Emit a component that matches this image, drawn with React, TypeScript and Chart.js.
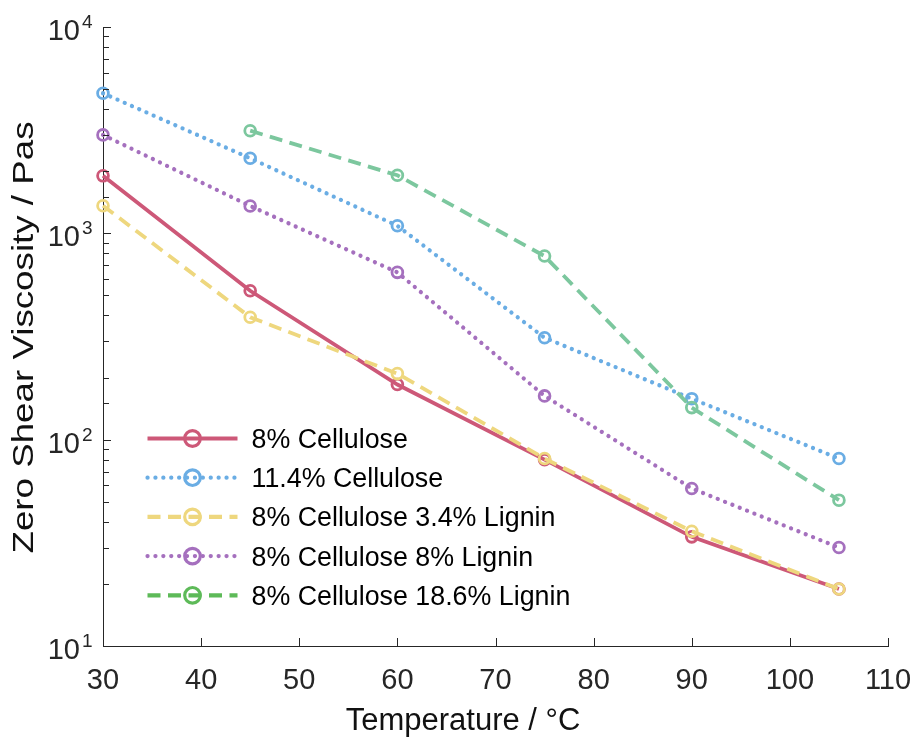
import React, { useEffect, useRef } from 'react';
import { Chart, registerables } from 'chart.js';

Chart.register(...registerables);

// ---------- data ----------
const temperatures = [30, 45, 60, 75, 90, 105];
const cellulose8 = [1900, 527, 185, 80, 33.8, 18.9];
const cellulose11_4 = [4775, 2311, 1088, 312, 158, 81];
const cellulose8Lignin3_4 = [1361, 392, 209, 81, 36, 18.9];
const cellulose8Lignin8 = [2999, 1357, 647, 163, 58, 30];
const cellulose8Lignin18_6 = [null, 3144, 1911, 776, 143, 50.9];

const seriesLabels = [
  '8% Cellulose',
  '11.4% Cellulose',
  '8% Cellulose 3.4% Lignin',
  '8% Cellulose 8% Lignin',
  '8% Cellulose 18.6% Lignin',
];
const xTickValues = [30, 40, 50, 60, 70, 80, 90, 100, 110];
const xAxisTitle = 'Temperature / °C';
const yAxisTitle = 'Zero Shear Viscosity / Pas';

// ---------- styles ----------
const FONT = "'Liberation Sans', Arial, Helvetica, sans-serif";
const AXIS_COLOR = '#262626';
const lineColors = ['#CD5878', '#6AADE4', '#EED77E', '#A570BE', '#7CC79E'];
const legendColors = ['#CD5878', '#6AADE4', '#EED77E', '#A570BE', '#5DBA58'];
const dashes: number[][] = [[], [0.1, 7.8], [13, 7.5], [0.1, 7.8], [13, 7.5]];
const caps: CanvasLineCap[] = ['butt', 'round', 'butt', 'round', 'butt'];

const allSeries = [cellulose8, cellulose11_4, cellulose8Lignin3_4, cellulose8Lignin8, cellulose8Lignin18_6];

const overlayPlugin = {
  id: 'overlay',
  afterDraw(chart: any) {
    const { ctx, chartArea } = chart;
    const xs = chart.scales.x;
    const ys = chart.scales.y;
    ctx.save();
    // tick marks (inward)
    ctx.strokeStyle = AXIS_COLOR;
    ctx.lineWidth = 1;
    ctx.beginPath();
    xTickValues.forEach((v) => {
      if (v === xs.min) return;
      const px = Math.round(xs.getPixelForValue(v)) + 0.5;
      ctx.moveTo(px, chartArea.bottom);
      ctx.lineTo(px, chartArea.bottom - 8);
    });
    ys.ticks.forEach((t: any) => {
      const py = Math.round(ys.getPixelForValue(t.value)) + 0.5;
      const lg = Math.log10(t.value);
      const major = Math.abs(lg - Math.round(lg)) < 1e-9;
      ctx.moveTo(chartArea.left, py);
      ctx.lineTo(chartArea.left + (major ? 8 : 6), py);
    });
    ctx.stroke();

    // y tick labels 10^n
    ctx.fillStyle = AXIS_COLOR;
    ys.ticks.forEach((t: any) => {
      const lg = Math.log10(t.value);
      if (Math.abs(lg - Math.round(lg)) > 1e-9) return;
      const py = ys.getPixelForValue(t.value);
      ctx.font = `29px ${FONT}`;
      ctx.textAlign = 'right';
      ctx.textBaseline = 'alphabetic';
      ctx.fillText('10', chartArea.left - 23, py + 13);
      ctx.font = `19px ${FONT}`;
      ctx.textAlign = 'left';
      ctx.fillText(String(Math.round(lg)), chartArea.left - 21, py + 1);
    });

    // axis titles
    ctx.fillStyle = '#111';
    ctx.font = `31px ${FONT}`;
    ctx.textAlign = 'center';
    ctx.textBaseline = 'alphabetic';
    ctx.fillText(xAxisTitle, chartArea.left + 360, chartArea.bottom + 84);

    ctx.save();
    ctx.translate(33, (chartArea.top + chartArea.bottom) / 2 + 1);
    ctx.rotate(-Math.PI / 2);
    ctx.font = `29px ${FONT}`;
    const w = ctx.measureText(yAxisTitle).width;
    ctx.scale(432 / w, 1);
    ctx.fillText(yAxisTitle, 0, 0);
    ctx.restore();

    // legend
    const x0 = chartArea.left + 44.5;
    const x1 = chartArea.left + 134.5;
    const xm = (x0 + x1) / 2;
    const xt = chartArea.left + 148.5;
    seriesLabels.forEach((label, i) => {
      const y = chartArea.top + 411.5 + i * 39.2;
      ctx.save();
      ctx.strokeStyle = legendColors[i];
      ctx.lineWidth = 4.2;
      ctx.lineCap = caps[i];
      ctx.setLineDash(dashes[i]);
      ctx.beginPath();
      ctx.moveTo(x0, y);
      ctx.lineTo(x1, y);
      ctx.stroke();
      ctx.setLineDash([]);
      ctx.beginPath();
      ctx.arc(xm, y, 7.8, 0, Math.PI * 2);
      ctx.lineWidth = 3.2;
      ctx.stroke();
      ctx.restore();
      ctx.fillStyle = '#000';
      ctx.font = `26.8px ${FONT}`;
      ctx.textAlign = 'left';
      ctx.textBaseline = 'alphabetic';
      ctx.fillText(label, xt, y + 9.5);
    });
    ctx.restore();
  },
};

export default function App() {
  const canvasRef = useRef<HTMLCanvasElement | null>(null);

  useEffect(() => {
    if (!canvasRef.current) return;
    const datasets = allSeries.map((series, i) => ({
      label: seriesLabels[i],
      data: temperatures
        .map((t, j) => ({ x: t, y: series[j] }))
        .filter((p) => p.y !== null && p.y !== undefined),
      borderColor: lineColors[i],
      backgroundColor: lineColors[i],
      borderWidth: caps[i] === 'round' ? 4.2 : 3.8,
      borderDash: dashes[i],
      borderCapStyle: caps[i],
      pointRadius: 5.4,
      pointBorderWidth: 2.8,
      pointBackgroundColor: 'rgba(0,0,0,0)',
      pointBorderColor: lineColors[i],
      pointStyle: 'circle',
      tension: 0,
      fill: false,
      clip: false,
      order: allSeries.length - i,
    }));

    const chart = new Chart(canvasRef.current, {
      type: 'line',
      data: { datasets: datasets as any },
      options: {
        animation: false,
        responsive: false,
        devicePixelRatio: 1,
        layout: { padding: { top: 27, right: 24, left: 0, bottom: 0 } },
        plugins: { legend: { display: false }, tooltip: { enabled: false }, title: { display: false } },
        scales: {
          x: {
            type: 'linear',
            min: 30,
            max: 110,
            grid: { display: false, drawTicks: false },
            border: { display: true, color: AXIS_COLOR, width: 1 },
            afterBuildTicks: (scale: any) => {
              scale.ticks = xTickValues.map((v) => ({ value: v }));
            },
            ticks: {
              color: AXIS_COLOR,
              font: { size: 29, family: FONT },
              padding: 18,
              autoSkip: false,
              maxRotation: 0,
              minRotation: 0,
            },
            afterFit: (scale: any) => {
              scale.height = 94;
              scale.paddingLeft = 0;
              scale.paddingRight = 0;
            },
          },
          y: {
            type: 'logarithmic',
            min: 10,
            max: 10000,
            grid: { display: false, drawTicks: false },
            border: { display: true, color: AXIS_COLOR, width: 1 },
            ticks: { display: false },
            afterFit: (scale: any) => {
              scale.width = 103;
              scale.paddingTop = 0;
              scale.paddingBottom = 0;
            },
          },
        },
      },
      plugins: [overlayPlugin],
    });
    return () => chart.destroy();
  }, []);

  return (
    <div style={{ position: 'absolute', left: 0, top: 0, width: 912, height: 740, background: '#fff' }}>
      <canvas ref={canvasRef} width={912} height={740} />
    </div>
  );
}
